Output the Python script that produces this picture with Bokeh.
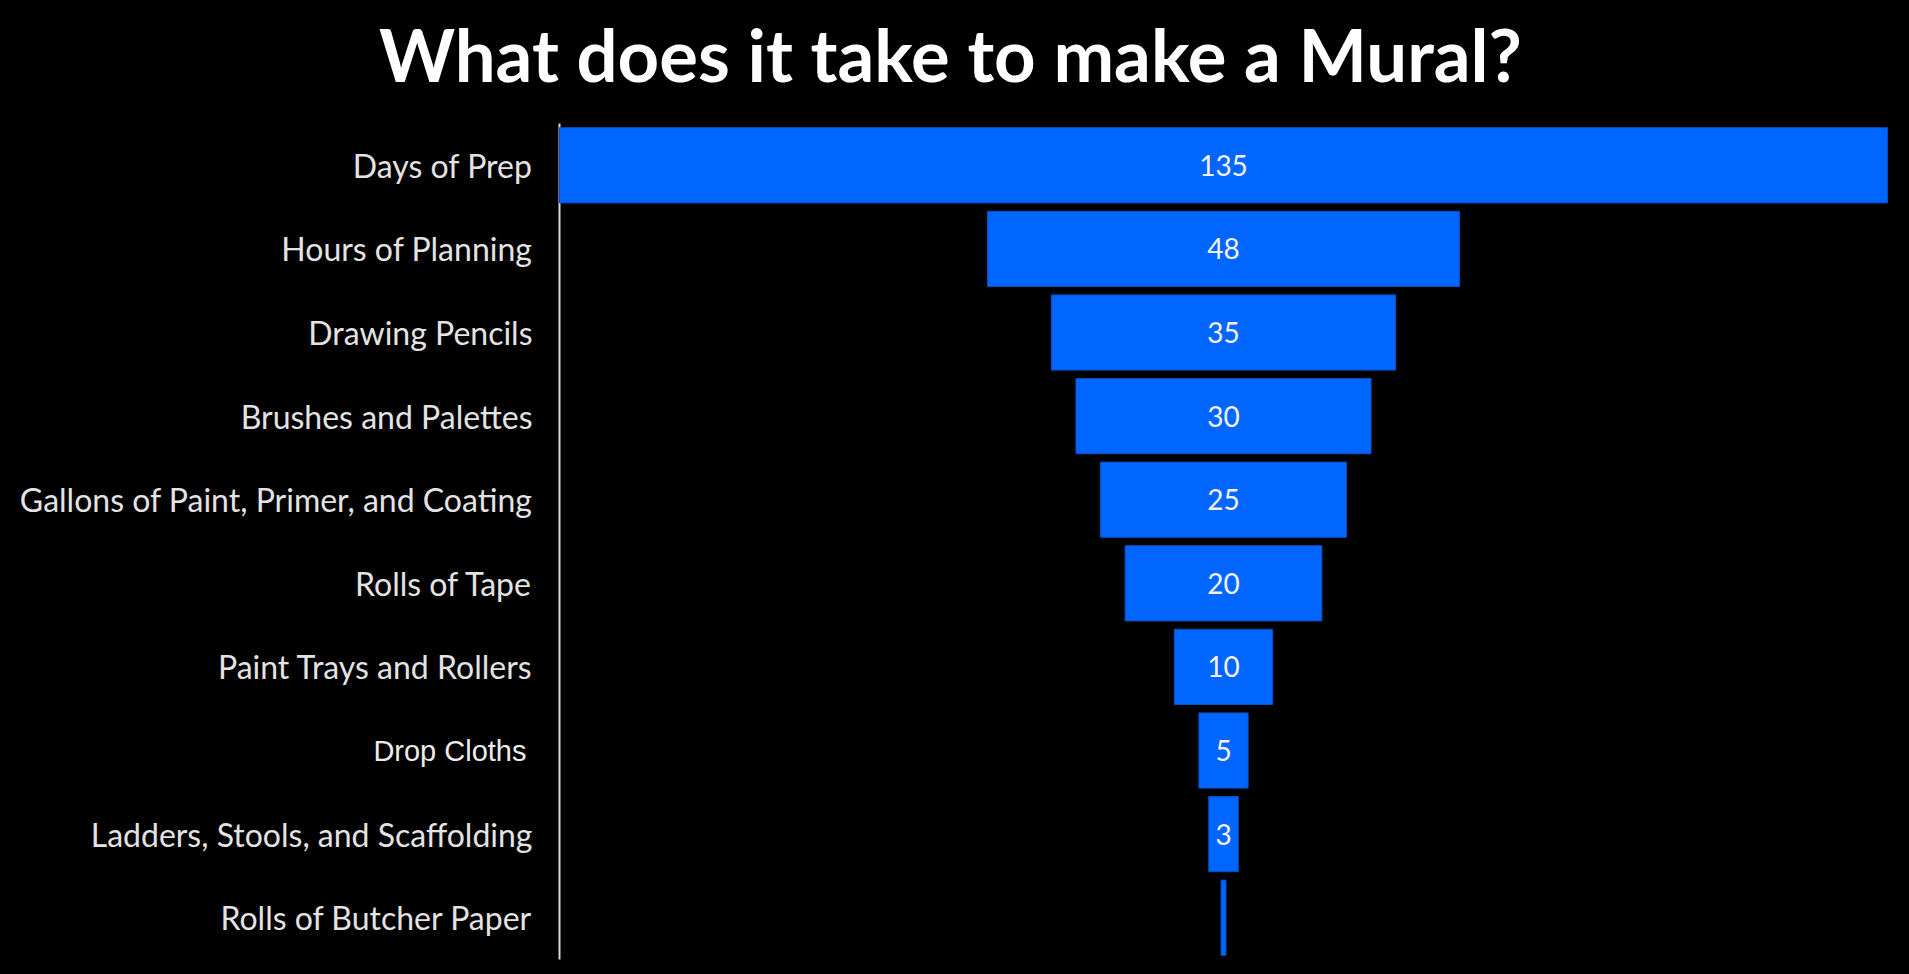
import pandas as pd
from bokeh.plotting import figure
from bokeh.models import Range1d, ColumnDataSource
from bokeh.core.properties import value
from bokeh.embed import file_html
from bokeh.resources import INLINE

title_text = "What does it take to make a Mural?"
categories = [
    "Days of Prep",
    "Hours of Planning",
    "Drawing Pencils",
    "Brushes and Palettes",
    "Gallons of Paint, Primer, and Coating",
    "Rolls of Tape",
    "Paint Trays and Rollers",
    "Drop Cloths",
    "Ladders, Stools, and Scaffolding",
    "Rolls of Butcher Paper",
]
values = [135, 48, 35, 30, 25, 20, 10, 5, 3, 0.5]
value_labels = ["135", "48", "35", "30", "25", "20", "10", "5", "3", ""]
odd_label = "Drop Cloths"

# ---- layout (pixels) ----
W, H = 1909, 974
axis_px, right_b, top_b, bottom_b = 559, 22, 123, 15
title_center_px, title_anchor_px = 950, 53
n = len(categories)
half = max(values) / 2.0
px_per_unit = (W - axis_px - right_b) / (2 * half)
row_px = (H - top_b - bottom_b) / n

x_start = -half - axis_px / px_per_unit
x_end = half + right_b / px_per_unit
y_start = -bottom_b / row_px
y_end = n + top_b / row_px

df = pd.DataFrame({"cat": categories, "val": values, "lab": value_labels})
df["y"] = [n - 0.5 - i for i in range(n)]
df["left"] = -df["val"] / 2.0
df["right"] = df["val"] / 2.0
src = ColumnDataSource(df)
main_src = ColumnDataSource(df[df["cat"] != odd_label])
odd_src = ColumnDataSource(df[df["cat"] == odd_label])

p = figure(
    width=W, height=H,
    x_range=Range1d(x_start, x_end), y_range=Range1d(y_start, y_end),
    output_backend="svg", toolbar_location=None,
    min_border=0,
)
p.styles = {"background-color": "black"}
p.background_fill_color = "black"
p.border_fill_color = "black"
p.outline_line_color = None
p.grid.visible = False
p.axis.visible = False

# vertical axis line
p.segment(x0=[-half], y0=[0], x1=[-half], y1=[n], line_color="#d9d9d9",
          line_width=2)

# funnel bars
p.hbar(y="y", left="left", right="right", height=0.9, source=src,
       fill_color="#0066ff", line_color="#0a4fc4", line_width=1)

# value labels
p.text(x=0, y="y", text="lab", source=src, text_align="center",
       text_baseline="middle", text_color="#f2f2f2",
       text_font=value("Lato"), text_font_size="28px")

# category labels
p.text(x=-half - 27 / px_per_unit, y="y", text="cat", source=main_src,
       text_align="right", text_baseline="middle", text_color="#e3e3e3",
       text_font=value("Lato"), text_font_size="32px")
p.text(x=-half - 33 / px_per_unit, y="y", text="cat", source=odd_src,
       text_align="right", text_baseline="middle", text_color="#ececec",
       text_font=value("Liberation Sans"), text_font_size="29px")

# title
p.text(x=[x_start + title_center_px / px_per_unit],
       y=[y_end - title_anchor_px / row_px], text=[title_text],
       text_align="center", text_baseline="alphabetic", text_color="#ffffff",
       text_font=value("Lato"), text_font_style="bold", text_font_size="72.5px")

open("out.html", "w").write(file_html(p, INLINE))
